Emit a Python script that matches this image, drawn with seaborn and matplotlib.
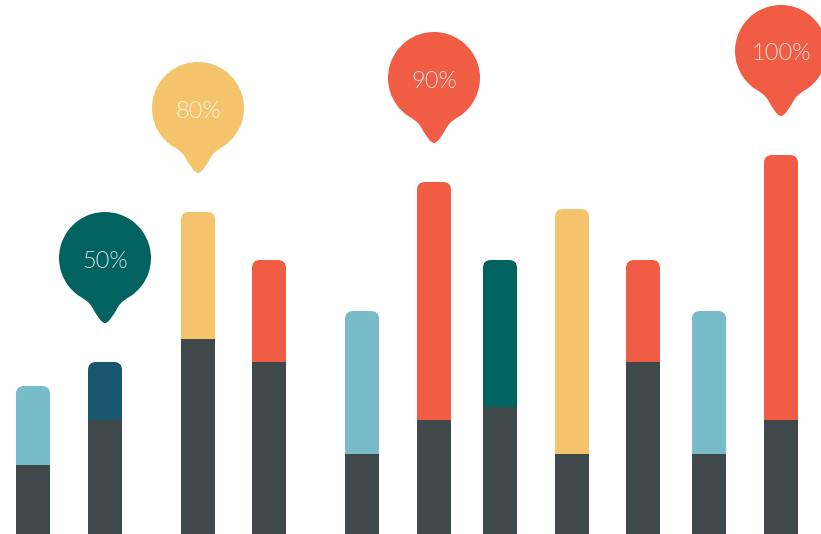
import numpy as np
import pandas as pd
import matplotlib
matplotlib.use("Agg")
import matplotlib.pyplot as plt
import seaborn as sns
from matplotlib.patches import FancyBboxPatch, PathPatch
from matplotlib.path import Path
import matplotlib.transforms as mtransforms

# ---- data ----
bar_x = [33, 105, 198, 269, 362, 434, 500, 572, 643, 709, 781]
base_values = [69, 114, 195, 172, 80, 114, 127, 80, 172, 80, 114]
total_values = [148, 172, 322, 274, 223, 352, 274, 325, 274, 223, 379]
top_groups = ["sky", "navy", "sun", "coral", "sky", "coral", "teal", "sun", "coral", "sky", "coral"]
pin_labels = ["50%", "80%", "90%", "100%"]
pin_bars = [1, 2, 5, 10]
pin_groups = ["teal", "sun", "coral", "coral"]

palette = {"sky": "#77BCC8", "navy": "#19566F", "sun": "#F4C46C",
           "coral": "#F05D44", "teal": "#02625F"}
base_color = "#3F494A"

df = pd.DataFrame({"x": bar_x, "base": base_values, "total": total_values, "group": top_groups})

sns.set_style("white")
fig = plt.figure(figsize=(8.21, 5.34), dpi=100)
ax = fig.add_axes([0, 0, 1, 1])

w = 34 / np.min(np.diff(sorted(bar_x)))
sns.barplot(data=df, x="x", y="total", hue="group", palette=palette, native_scale=True,
            dodge=False, width=w, legend=False, errorbar=None, saturation=1, ax=ax)
top_patches = list(ax.patches)
sns.barplot(data=df, x="x", y="base", color=base_color, native_scale=True,
            width=w, errorbar=None, saturation=1, ax=ax)
base_patches = [p for p in ax.patches if p not in top_patches]

# round the top bars
for p in top_patches:
    x0, y0 = p.get_x(), p.get_y()
    pw, ph = p.get_width(), p.get_height()
    fc = p.get_facecolor()
    p.remove()
    if ph <= 0:
        continue
    ax.add_patch(FancyBboxPatch((x0, y0), pw, ph, boxstyle="round,pad=0,rounding_size=8",
                                facecolor=fc, edgecolor="none", zorder=1))
for p in base_patches:
    p.set_zorder(3)
    p.set_edgecolor("none")

# pin marker shape (unit: pixels, centred on circle centre)
r = 46
arc = Path.arc(-55, 235)
verts = list(arc.vertices * r)
codes = list(arc.codes)
a0 = np.deg2rad(-55)
p_right = (r * np.cos(a0), r * np.sin(a0))
verts += [(-20, -41.5), (-16, -44), (-13, -49),
          (-9, -56), (-4, -65), (0, -65),
          (4, -65), (9, -56), (13, -49),
          (16, -44), (20, -41.5), p_right,
          p_right]
codes += [Path.CURVE4] * 12 + [Path.CLOSEPOLY]
pin_path = Path(np.array(verts), codes)

for lab, bi, g in zip(pin_labels, pin_bars, pin_groups):
    cx = bar_x[bi]
    cy = total_values[bi] + 104
    tr = mtransforms.Affine2D().translate(cx, cy)
    ax.add_patch(PathPatch(tr.transform_path(pin_path), facecolor=palette[g],
                           edgecolor="none", zorder=4, clip_on=False))
    ax.text(cx, cy - 3, lab, ha="center", va="center", fontsize=17,
            family=["Lato", "DejaVu Sans"], fontweight=300,
            color="white", alpha=0.8, zorder=5)

ax.set_xlim(0, 821)
ax.set_ylim(0, 534)
ax.axis("off")
fig.savefig("out.png", dpi=100, facecolor="white")
